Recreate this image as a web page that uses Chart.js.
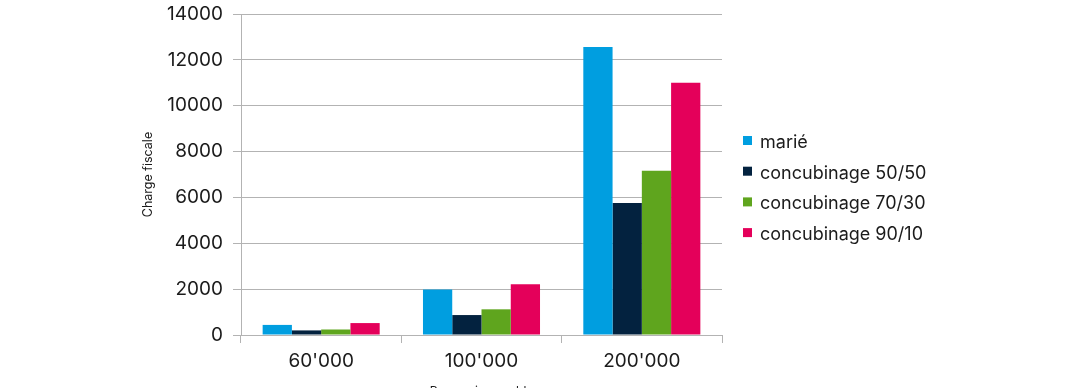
<!DOCTYPE html>
<html><head><meta charset="utf-8">
<script src="https://cdn.jsdelivr.net/npm/chart.js@4"></script>
<style>html,body{margin:0;padding:0;background:#fff}#wrap{width:1080px;height:388px;position:relative}</style>
</head><body><div id="wrap"><canvas id="c" width="1080" height="388"></canvas></div>
<script>
const categories = ["60'000", "100'000", "200'000"];
const seriesNames = ["marié", "concubinage 50/50", "concubinage 70/30", "concubinage 90/10"];
const marie = [440, 1980, 12560];
const conc5050 = [200, 870, 5760];
const conc7030 = [240, 1120, 7160];
const conc9010 = [520, 2210, 11000];
const yTickValues = [0, 2000, 4000, 6000, 8000, 10000, 12000, 14000];
const yTitle = "Charge fiscale";
const xTitle = "Revenu imposable";
const colors = ["#009EE0", "#03223F", "#5FA51E", "#E4005A"];

const FONT = "Inter";
const TEXT = "#1b1b1b";
const GRID = "#b3b3b3";

const legendPlugin = {
  id: 'customLegend',
  afterDraw(chart) {
    const ctx = chart.ctx;
    ctx.save();
    ctx.font = "18px " + FONT;
    ctx.textBaseline = "alphabetic";
    chart.data.datasets.forEach((ds, i) => {
      const y0 = 136 + i * 30.7;
      ctx.fillStyle = ds.backgroundColor;
      ctx.fillRect(743, y0, 9, 9);
      ctx.fillStyle = TEXT;
      ctx.fillText(ds.label, 760, y0 + 12);
    });
    ctx.restore();
  }
};

const seriesValues = [marie, conc5050, conc7030, conc9010];

new Chart(document.getElementById('c'), {
  type: 'bar',
  data: {
    labels: categories,
    datasets: seriesNames.map((n, i) => ({
      label: n,
      data: seriesValues[i],
      backgroundColor: colors[i],
      borderWidth: 0,
      barPercentage: 1,
      categoryPercentage: 0.73
    }))
  },
  options: {
    responsive: false,
    animation: false,
    devicePixelRatio: 1,
    layout: { padding: { left: 0, right: 358, top: 14, bottom: 0 } },
    plugins: { legend: { display: false }, tooltip: { enabled: false } },
    scales: {
      x: {
        grid: { display: true, drawOnChartArea: false, drawTicks: true, tickLength: 8, color: GRID, lineWidth: 1, offset: true },
        border: { display: true, color: GRID, width: 1 },
        ticks: { color: TEXT, font: { family: FONT, size: 19 }, padding: 7 },
        title: { display: true, text: xTitle, color: TEXT, font: { family: FONT, size: 12 }, padding: { top: 0, bottom: -11 } },
        afterFit(s) { s.height = 53; s.paddingLeft = 0; s.paddingRight = 0; }
      },
      y: {
        min: 0, max: 14000,
        afterBuildTicks(s) { s.ticks = yTickValues.map(v => ({ value: v })); },
        grid: { color: GRID, lineWidth: 1, tickLength: 8 },
        border: { display: true, color: GRID, width: 1 },
        ticks: { color: TEXT, font: { family: FONT, size: 19 }, padding: 10, callback: (v) => String(v) },
        title: { display: true, text: yTitle, color: TEXT, font: { family: FONT, size: 12.5 }, padding: { top: 141, bottom: 0 } },
        afterFit(s) { s.width = 241; s.paddingTop = 0; s.paddingBottom = 0; }
      }
    }
  },
  plugins: [legendPlugin]
});
</script>
</body></html>
